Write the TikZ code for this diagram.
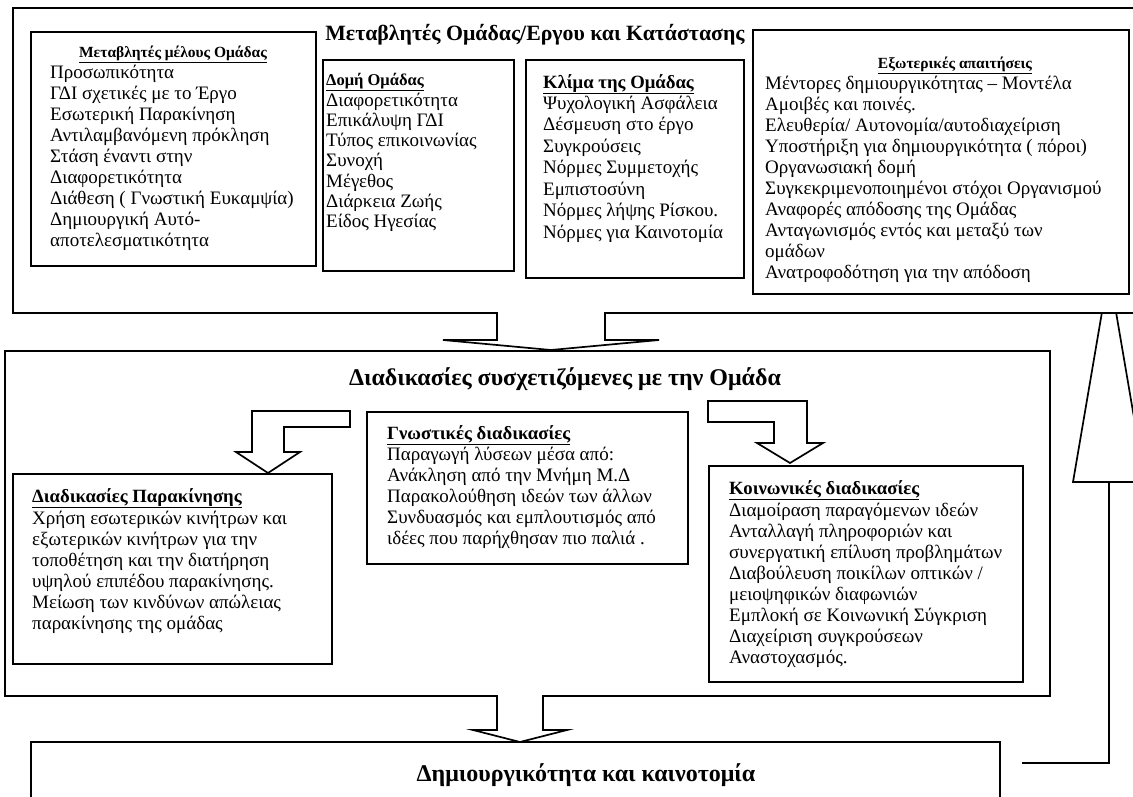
\documentclass[tikz,border=0pt]{standalone}
\usepackage{fontspec}
\setmainfont{Liberation Serif}

\tikzset{
  frame/.style={draw, line width=1.7pt, fill=white, inner sep=0pt, anchor=north west},
  item/.style={anchor=base west, inner sep=0pt, font=\fontsize{19}{21}\selectfont},
  smallhead/.style={anchor=base, inner sep=0pt, font=\bfseries\fontsize{15.5}{18}\selectfont},
  boxhead/.style={anchor=base west, inner sep=0pt, font=\bfseries\fontsize{18.7}{21}\selectfont},
  bighead/.style={anchor=base, inner sep=0pt, font=\bfseries\fontsize{24}{27}\selectfont},
  blockarrow/.style={line width=1.7pt, line join=miter, fill=white},
}
% one node per line: name, x, first baseline, pitch, lines
\newcommand\linelist[5]{%
  \foreach \t [count=\i] in {#5}
    \node[item] (#1\i) at (#2,{#3+#4*(\i-1)}) {\t};}

\begin{document}
\begin{tikzpicture}[x=1pt, y=-1pt]
\useasboundingbox (0,0) rectangle (1133,796);
% feedback arrow head, partly behind the top frame
\draw[blockarrow] (1073,482) -- (1109,271) -- (1145,482) -- cycle;
%% top frame
\node[frame, minimum width=1128, minimum height=305] (vars) at (12,7) {};
\node[bighead, font=\bfseries\fontsize{21.8}{24}\selectfont] (varstitle) at (535,40) {Μεταβλητές Ομάδας/Εργου και Κατάστασης};
%%
\node[frame, minimum width=285, minimum height=234] (member) at (30,31) {};
\node[smallhead] (membertitle) at (173,57) {\underline{Μεταβλητές μέλους Ομάδας}};
\linelist{mem}{50}{78}{21}{Προσωπικότητα, ΓΔΙ σχετικές με το Έργο, Εσωτερική Παρακίνηση,
  Αντιλαμβανόμενη πρόκληση, Στάση έναντι στην, Διαφορετικότητα,
  Διάθεση ( Γνωστική Ευκαμψία), Δημιουργική Αυτό-, αποτελεσματικότητα}
%%
\node[frame, minimum width=191, minimum height=211] (struct) at (322,59) {};
\node[smallhead, anchor=base west, font=\bfseries\fontsize{16.5}{18}\selectfont] (structtitle) at (326,85) {\underline{Δομή Ομάδας}};
\linelist{str}{326}{106}{20.3}{Διαφορετικότητα, Επικάλυψη ΓΔΙ, Τύπος επικοινωνίας,
  Συνοχή, Μέγεθος, Διάρκεια Ζωής, Είδος Ηγεσίας}
%%
\node[frame, minimum width=218, minimum height=218] (climate) at (525,59) {};
\node[boxhead] (climatetitle) at (543,88) {\underline{Κλίμα της Ομάδας}};
\linelist{cli}{543}{109}{21.5}{Ψυχολογική Ασφάλεια, Δέσμευση στο έργο, Συγκρούσεις,
  Νόρμες Συμμετοχής, Εμπιστοσύνη, Νόρμες λήψης Ρίσκου., Νόρμες για Καινοτομία}
%%
\node[frame, minimum width=376, minimum height=264] (extern) at (752,29) {};
\node[smallhead] (externtitle) at (955,68) {\underline{Εξωτερικές απαιτήσεις}};
\linelist{ext}{765}{89}{21}{Μέντορες δημιουργικότητας – Μοντέλα, Αμοιβές και ποινές.,
  Ελευθερία/ Αυτονομία/αυτοδιαχείριση, Υποστήριξη για δημιουργικότητα ( πόροι),
  Οργανωσιακή δομή, Συγκεκριμενοποιημένοι στόχοι Οργανισμού,
  Αναφορές απόδοσης της Ομάδας, Ανταγωνισμός εντός και μεταξύ των, ομάδων,
  Ανατροφοδότηση για την απόδοση}
%% middle frame
\node[frame, minimum width=1045, minimum height=345] (proc) at (4,350) {};
\node[bighead] (proctitle) at (565,385) {Διαδικασίες συσχετιζόμενες με την Ομάδα};
\draw[blockarrow] (497,312) -- (497,340) -- (443,340) -- (551,350) -- (659,340) -- (605,340) -- (605,312);
%%
\node[frame, minimum width=319, minimum height=190] (motiv) at (12,473) {};
\node[boxhead] (motivtitle) at (32,502) {\underline{Διαδικασίες Παρακίνησης}};
\linelist{mot}{32}{524}{21}{Χρήση εσωτερικών κινήτρων και, εξωτερικών κινήτρων για την,
  τοποθέτηση και την διατήρηση, υψηλού επιπέδου παρακίνησης.,
  Μείωση των κινδύνων απώλειας, παρακίνησης της ομάδας}
%%
\node[frame, minimum width=321, minimum height=152] (cogn) at (366,411) {};
\node[boxhead] (cogntitle) at (387,439) {\underline{Γνωστικές διαδικασίες}};
\linelist{cog}{387}{460}{21}{Παραγωγή λύσεων μέσα από:, Ανάκληση από την Μνήμη Μ.Δ,
  Παρακολούθηση ιδεών των άλλων, Συνδυασμός και εμπλουτισμός από,
  ιδέες που παρήχθησαν πιο παλιά .}
%%
\node[frame, minimum width=314, minimum height=216] (social) at (708,465) {};
\node[boxhead] (socialtitle) at (729,494) {\underline{Κοινωνικές διαδικασίες}};
\linelist{soc}{729}{516}{21}{Διαμοίραση παραγόμενων ιδεών, Ανταλλαγή πληροφοριών και,
  συνεργατική επίλυση προβλημάτων, Διαβούλευση ποικίλων οπτικών /,
  μειοψηφικών διαφωνιών, Εμπλοκή σε Κοινωνική Σύγκριση,
  Διαχείριση συγκρούσεων, Αναστοχασμός.}
%%
\draw[blockarrow] (350,411) -- (252,411) -- (252,452) -- (236,452) -- (268,473) -- (300,452) -- (284,452) -- (284,427) -- (350,427) -- cycle;
\draw[blockarrow] (708,401) -- (807,401) -- (807,443) -- (823,443) -- (790,463) -- (757,443) -- (774,443) -- (774,422) -- (708,422) -- cycle;
%% bottom frame
\node[frame, minimum width=969, minimum height=100] (creat) at (30,741) {};
\node[bighead] (creattitle) at (586,781) {Δημιουργικότητα και καινοτομία};
\draw[blockarrow] (497,695) -- (497,730) -- (473,730) -- (520,742) -- (567,730) -- (543,730) -- (543,695);
%% feedback line
\coordinate (fbstart) at (1022,763);
\draw[line width=1.7pt] (fbstart) -- (1109,763) -- (1109,482);
\end{tikzpicture}
\end{document}
